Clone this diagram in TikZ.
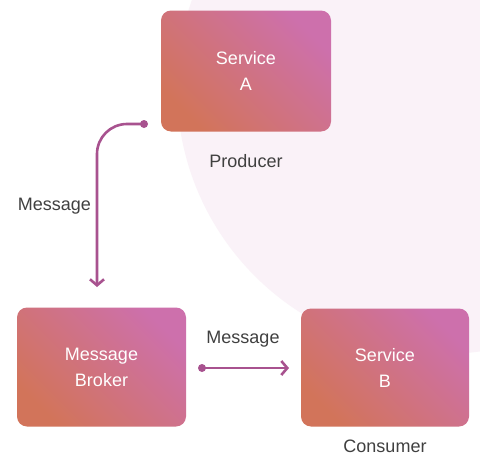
\documentclass[tikz,border=0pt]{standalone}
\usepackage{fontspec}
\setmainfont{Liberation Sans}
\usetikzlibrary{arrows.meta}
\definecolor{bgpink}{RGB}{250,242,248}
\definecolor{boxtr}{RGB}{205,112,172}
\definecolor{boxbl}{RGB}{210,116,90}
\definecolor{wire}{RGB}{168,82,143}
\definecolor{labelgray}{RGB}{64,64,64}
\tikzset{
  svcbox/.style={rounded corners=10pt,
    top color=boxtr, bottom color=boxbl, shading=axis, shading angle=-45,
    text=white, align=center,
    font=\fontsize{18}{26}\selectfont, inner sep=0pt},
  lbl/.style={text=labelgray, font=\fontsize{18}{22}\selectfont, inner sep=0pt, anchor=base},
  wireline/.style={draw=wire, line width=2.6pt, line cap=round,
    -{Straight Barb[length=6pt,width=14pt,line width=2.6pt]}},
  wiredot/.style={fill=wire}
}
\begin{document}
\begin{tikzpicture}[x=1pt,y=-1pt]
\clip (0,0) rectangle (480,455);
\fill[white] (0,0) rectangle (480,455);
\fill[bgpink] (443,88) circle (266);

\node[svcbox, minimum width=170pt, minimum height=121pt] (A) at (246,71) {Service\\A};
\node[svcbox, minimum width=169pt, minimum height=119pt] (K) at (101.5,367) {Message\\Broker};
\node[svcbox, minimum width=168pt, minimum height=118pt] (B) at (385,367.5) {Service\\B};

\node[lbl] (prod) at (246,167) {Producer};
\node[lbl] (cons) at (385,452) {Consumer};
\node[lbl] (m1) at (54.5,210) {Message};
\node[lbl] (m2) at (243,343) {Message};

\coordinate (s1) at (144,124);
\coordinate (e1) at (97,287);
\coordinate (s2) at (202,368);
\coordinate (e2) at (289,368);

\draw[wireline, rounded corners=30pt] (s1) -| (e1);
\fill[wiredot] (s1) circle (4);
\draw[wireline] (s2) -- (e2);
\fill[wiredot] (s2) circle (4);
\end{tikzpicture}
\end{document}
